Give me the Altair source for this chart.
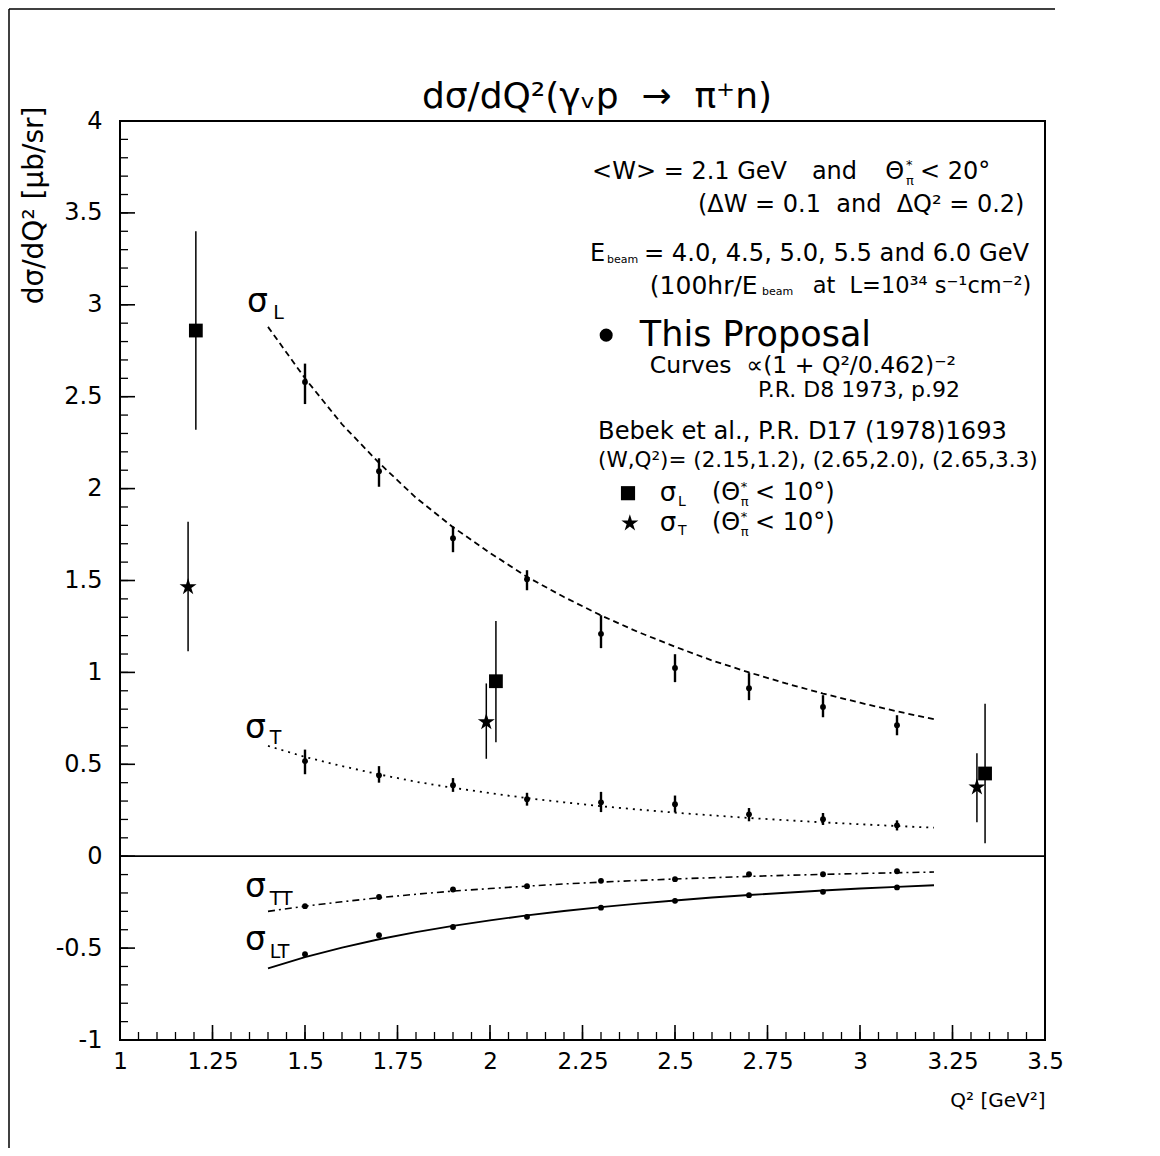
import altair as alt
import pandas as pd

FONT = "DejaVu Sans"
NB = "\u00a0"

# ---------------- data ----------------
curve_q = [1.4, 1.5, 1.6, 1.7, 1.8, 1.9, 2.0, 2.1, 2.2, 2.3, 2.4, 2.5, 2.6, 2.7, 2.8, 2.9, 3.0, 3.1, 3.2]
sigL_curve = [2.88, 2.60, 2.35, 2.14, 1.95, 1.79, 1.65, 1.52, 1.41, 1.31, 1.22, 1.14, 1.065, 1.0, 0.94, 0.885, 0.835, 0.788, 0.745]
sigT_curve = [0.60, 0.54, 0.49, 0.445, 0.405, 0.372, 0.343, 0.316, 0.293, 0.272, 0.254, 0.237, 0.222, 0.208, 0.196, 0.184, 0.174, 0.164, 0.155]
sigTT_curve = [-0.300, -0.272, -0.248, -0.226, -0.207, -0.190, -0.176, -0.163, -0.151, -0.141, -0.132, -0.124, -0.117, -0.110, -0.104, -0.099, -0.094, -0.090, -0.086]
sigLT_curve = [-0.610, -0.549, -0.497, -0.452, -0.413, -0.379, -0.349, -0.322, -0.298, -0.277, -0.258, -0.241, -0.225, -0.211, -0.199, -0.187, -0.176, -0.167, -0.158]

prop_q = [1.5, 1.7, 1.9, 2.1, 2.3, 2.5, 2.7, 2.9, 3.1]
sigL_val = [2.58, 2.095, 1.73, 1.507, 1.21, 1.024, 0.914, 0.812, 0.713]
sigL_lo = [2.46, 2.01, 1.654, 1.447, 1.132, 0.947, 0.849, 0.756, 0.658]
sigL_hi = [2.68, 2.165, 1.795, 1.556, 1.311, 1.099, 0.996, 0.876, 0.767]
sigT_val = [0.517, 0.44, 0.386, 0.31, 0.293, 0.283, 0.228, 0.201, 0.168]
sigT_lo = [0.446, 0.40, 0.35, 0.275, 0.24, 0.238, 0.19, 0.17, 0.14]
sigT_hi = [0.58, 0.49, 0.425, 0.345, 0.35, 0.33, 0.262, 0.235, 0.195]
sigTT_val = [-0.272, -0.222, -0.181, -0.163, -0.134, -0.125, -0.098, -0.098, -0.082]
sigLT_val = [-0.533, -0.43, -0.385, -0.33, -0.28, -0.243, -0.212, -0.194, -0.17]
small_err = 0.012

bebekL_q = [1.205, 2.016, 3.338]
bebekL_val = [2.86, 0.952, 0.45]
bebekL_lo = [2.32, 0.62, 0.07]
bebekL_hi = [3.40, 1.28, 0.83]
bebekT_q = [1.184, 1.99, 3.316]
bebekT_val = [1.465, 0.73, 0.375]
bebekT_lo = [1.115, 0.53, 0.185]
bebekT_hi = [1.82, 0.94, 0.56]

x_major = [1.0, 1.25, 1.5, 1.75, 2.0, 2.25, 2.5, 2.75, 3.0, 3.25, 3.5]
y_major = [-1.0, -0.5, 0.0, 0.5, 1.0, 1.5, 2.0, 2.5, 3.0, 3.5, 4.0]
x_minor = [round(1.0 + 0.05 * i, 3) for i in range(51)]
y_minor = [round(-1.0 + 0.1 * i, 3) for i in range(51)]
zero_line = [0.0]

# chart title, placed above the frame in data units
title_x = [2.289]
title_y = [4.129]
title_text = ["dσ/dQ²(γᵥp" + NB + NB + "→" + NB + NB + "π⁺n)"]

# annotation texts: position in data units, text, font size
ann_x = [2.276, 2.870, 3.068, 3.124, 3.124, 3.162,
         2.562,
         2.270, 2.316, 2.416,
         2.432, 2.735, 2.872,
         2.405,
         2.432,
         2.724,
         2.292,
         2.292,
         2.459, 2.508, 2.600, 2.678, 2.678, 2.716,
         2.459, 2.508, 2.600, 2.678, 2.678, 2.716,
         1.343, 1.414,
         1.338, 1.405,
         1.338, 1.405,
         1.338, 1.405]
ann_y = [3.721, 3.721, 3.721, 3.760, 3.672, 3.721,
         3.542,
         3.275, 3.243, 3.275,
         3.101, 3.069, 3.101,
         2.835,
         2.666,
         2.535,
         2.307,
         2.149,
         1.975, 1.926, 1.975, 2.008, 1.926, 1.975,
         1.812, 1.768, 1.812, 1.844, 1.763, 1.812,
         3.014, 2.954,
         0.696, 0.642,
         -0.169, -0.234,
         -0.457, -0.522]
ann_text = ["<W> = 2.1 GeV", "and", "Θ", "*", "π", "< 20°",
            "(ΔW = 0.1" + NB + NB + "and" + NB + NB + "ΔQ² = 0.2)",
            "E", "beam", "= 4.0, 4.5, 5.0, 5.5 and 6.0 GeV",
            "(100hr/E", "beam", "at" + NB + NB + "L=10³⁴ s⁻¹cm⁻²)",
            "This Proposal",
            "Curves" + NB + NB + "∝(1 + Q²/0.462)⁻²",
            "P.R. D8 1973, p.92",
            "Bebek et al., P.R. D17 (1978)1693",
            "(W,Q²)= (2.15,1.2), (2.65,2.0), (2.65,3.3)",
            "σ", "L", "(Θ", "*", "π", "< 10°)",
            "σ", "T", "(Θ", "*", "π", "< 10°)",
            "σ", "L",
            "σ", "T",
            "σ", "TT",
            "σ", "LT"]
ann_size = [24, 24, 24, 13, 13, 24,
            24,
            24, 11, 24.2,
            25, 11, 22.5,
            35,
            23.5,
            22,
            24.2,
            21.5,
            26, 14, 24, 13, 13, 24,
            26, 14, 24, 13, 13, 24,
            33, 19,
            33, 19,
            33, 19,
            33, 19]

legend_x = [2.314, 2.373, 2.378]
legend_y = [2.835, 1.975, 1.812]
legend_kind = ["circle", "square", "star"]

STAR = ("M0,-1L0.223,-0.307L0.951,-0.309L0.361,0.117L0.588,0.809L0,0.38"
        "L-0.588,0.809L-0.361,0.117L-0.951,-0.309L-0.223,-0.307Z")

# ---------------- tables ----------------
xs = alt.Scale(domain=[1, 3.5], nice=False, zero=False)
ys = alt.Scale(domain=[-1, 4], nice=False, zero=False)
W, H = 925, 919

curves = pd.DataFrame({"q": curve_q, "L": sigL_curve, "T": sigT_curve,
                       "TT": sigTT_curve, "LT": sigLT_curve})
prop = pd.DataFrame({
    "q": prop_q * 4,
    "v": sigL_val + sigT_val + sigTT_val + sigLT_val,
    "lo": sigL_lo + sigT_lo + [v - small_err for v in sigTT_val] + [v - small_err for v in sigLT_val],
    "hi": sigL_hi + sigT_hi + [v + small_err for v in sigTT_val] + [v + small_err for v in sigLT_val],
})
bL = pd.DataFrame({"q": bebekL_q, "v": bebekL_val, "lo": bebekL_lo, "hi": bebekL_hi})
bT = pd.DataFrame({"q": bebekT_q, "v": bebekT_val, "lo": bebekT_lo, "hi": bebekT_hi})
ann = pd.DataFrame({"x": ann_x, "y": ann_y, "t": ann_text, "s": ann_size})
tdf = pd.DataFrame({"x": title_x, "y": title_y, "t": title_text})
leg = pd.DataFrame({"x": legend_x, "y": legend_y, "k": legend_kind})
xmaj = pd.DataFrame({"t": x_major})
xmin = pd.DataFrame({"t": x_minor})
ymaj = pd.DataFrame({"t": y_major})
ymin = pd.DataFrame({"t": y_minor})
zdf = pd.DataFrame({"t": zero_line})

LABEL_EXPR = "replace(format(datum.value, '.2~f'), '\u2212', '-')"

x_axis = alt.Axis(values=x_major, labelExpr=LABEL_EXPR, labelFontSize=23, labelPadding=10,
                  labelFont=FONT, labelColor="black",
                  labelFlush=False, labelOverlap=False, ticks=False, domain=False, grid=False,
                  title="Q² [GeV²]", titleX=W, titleY=60, titleAlign="right",
                  titleBaseline="middle", titleFontSize=20, titleFontWeight="normal",
                  titleFont=FONT, titleColor="black")
y_axis = alt.Axis(values=y_major, labelExpr=LABEL_EXPR, labelFontSize=24, labelPadding=18,
                  labelFont=FONT, labelColor="black",
                  labelFlush=False, labelOverlap=False, ticks=False, domain=False, grid=False,
                  title="dσ/dQ² [μb/sr]", titleX=-86, titleY=-15, titleAngle=270,
                  titleAlign="right", titleBaseline="middle", titleFontSize=28,
                  titleFontWeight="normal", titleFont=FONT, titleColor="black")

base = alt.Chart(curves)
curve_L = base.mark_line(color="black", strokeWidth=1.8, strokeDash=[6, 4]).encode(
    x=alt.X("q:Q", scale=xs, axis=x_axis), y=alt.Y("L:Q", scale=ys, axis=y_axis))
curve_T = base.mark_line(color="black", strokeWidth=1.8, strokeDash=[2, 5]).encode(
    x=alt.X("q:Q", scale=xs), y=alt.Y("T:Q", scale=ys))
curve_TT = base.mark_line(color="black", strokeWidth=1.6, strokeDash=[7, 4, 2, 4]).encode(
    x=alt.X("q:Q", scale=xs), y=alt.Y("TT:Q", scale=ys))
curve_LT = base.mark_line(color="black", strokeWidth=1.9).encode(
    x=alt.X("q:Q", scale=xs), y=alt.Y("LT:Q", scale=ys))

zero = alt.Chart(zdf).mark_rule(color="black", strokeWidth=1.8).encode(
    y=alt.Y("t:Q", scale=ys), x=alt.value(0), x2=alt.value(W))

tick_xmaj = alt.Chart(xmaj).mark_rule(color="black", strokeWidth=1.6).encode(
    x=alt.X("t:Q", scale=xs), y=alt.value(H), y2=alt.value(H - 15))
tick_xmin = alt.Chart(xmin).mark_rule(color="black", strokeWidth=1.3).encode(
    x=alt.X("t:Q", scale=xs), y=alt.value(H), y2=alt.value(H - 8))
tick_ymaj = alt.Chart(ymaj).mark_rule(color="black", strokeWidth=1.6).encode(
    y=alt.Y("t:Q", scale=ys), x=alt.value(0), x2=alt.value(15))
tick_ymin = alt.Chart(ymin).mark_rule(color="black", strokeWidth=1.3).encode(
    y=alt.Y("t:Q", scale=ys), x=alt.value(0), x2=alt.value(8))

# thin frame of the scanned page
page_left = alt.Chart(zdf).mark_rule(color="black", strokeWidth=1.5).encode(
    x=alt.value(-111), y=alt.value(-112), y2=alt.value(1030))
page_top = alt.Chart(zdf).mark_rule(color="black", strokeWidth=1.5).encode(
    y=alt.value(-112), x=alt.value(-111), x2=alt.value(935))
page_bottom = alt.Chart(zdf).mark_rule(color="#888888", strokeWidth=1.5).encode(
    y=alt.value(1030), x=alt.value(-111), x2=alt.value(430))

prop_err = alt.Chart(prop).mark_rule(color="black", strokeWidth=2.4).encode(
    x=alt.X("q:Q", scale=xs), y=alt.Y("lo:Q", scale=ys), y2="hi:Q")
prop_pts = alt.Chart(prop).mark_point(filled=True, shape="circle", size=34,
                                      color="black", opacity=1).encode(
    x=alt.X("q:Q", scale=xs), y=alt.Y("v:Q", scale=ys))

bL_err = alt.Chart(bL).mark_rule(color="black", strokeWidth=1.5).encode(
    x=alt.X("q:Q", scale=xs), y=alt.Y("lo:Q", scale=ys), y2="hi:Q")
bL_pts = alt.Chart(bL).mark_point(filled=True, shape="square", size=190,
                                  color="black", opacity=1).encode(
    x=alt.X("q:Q", scale=xs), y=alt.Y("v:Q", scale=ys))
bT_err = alt.Chart(bT).mark_rule(color="black", strokeWidth=1.5).encode(
    x=alt.X("q:Q", scale=xs), y=alt.Y("lo:Q", scale=ys), y2="hi:Q")
bT_pts = alt.Chart(bT).mark_point(filled=True, shape=STAR, size=320,
                                  color="black", opacity=1).encode(
    x=alt.X("q:Q", scale=xs), y=alt.Y("v:Q", scale=ys))

texts = alt.Chart(ann).mark_text(align="left", baseline="middle", font=FONT,
                                 color="black").encode(
    x=alt.X("x:Q", scale=xs), y=alt.Y("y:Q", scale=ys), text="t:N",
    size=alt.Size("s:Q", scale=None))

title_mark = alt.Chart(tdf).mark_text(align="center", baseline="middle", font=FONT,
                                      fontSize=36, color="black").encode(
    x=alt.X("x:Q", scale=xs), y=alt.Y("y:Q", scale=ys), text="t:N")

leg_c = alt.Chart(leg[leg.k == "circle"]).mark_point(filled=True, shape="circle", size=170,
                                                     color="black", opacity=1).encode(
    x=alt.X("x:Q", scale=xs), y=alt.Y("y:Q", scale=ys))
leg_s = alt.Chart(leg[leg.k == "square"]).mark_point(filled=True, shape="square", size=200,
                                                     color="black", opacity=1).encode(
    x=alt.X("x:Q", scale=xs), y=alt.Y("y:Q", scale=ys))
leg_st = alt.Chart(leg[leg.k == "star"]).mark_point(filled=True, shape=STAR, size=320,
                                                    color="black", opacity=1).encode(
    x=alt.X("x:Q", scale=xs), y=alt.Y("y:Q", scale=ys))

chart = alt.layer(
    curve_L, curve_T, curve_TT, curve_LT, zero,
    tick_xmaj, tick_xmin, tick_ymaj, tick_ymin,
    page_left, page_top, page_bottom,
    prop_err, prop_pts, bL_err, bL_pts, bT_err, bT_pts,
    texts, title_mark, leg_c, leg_s, leg_st,
).properties(
    width=W, height=H,
    background="white",
    autosize=alt.AutoSizeParams(type="none"),
    padding={"left": 112, "top": 113, "right": 107, "bottom": 108},
).configure_view(
    stroke="black", strokeWidth=2
)

chart.save("out.html", embed_options={"renderer": "svg", "actions": False})
